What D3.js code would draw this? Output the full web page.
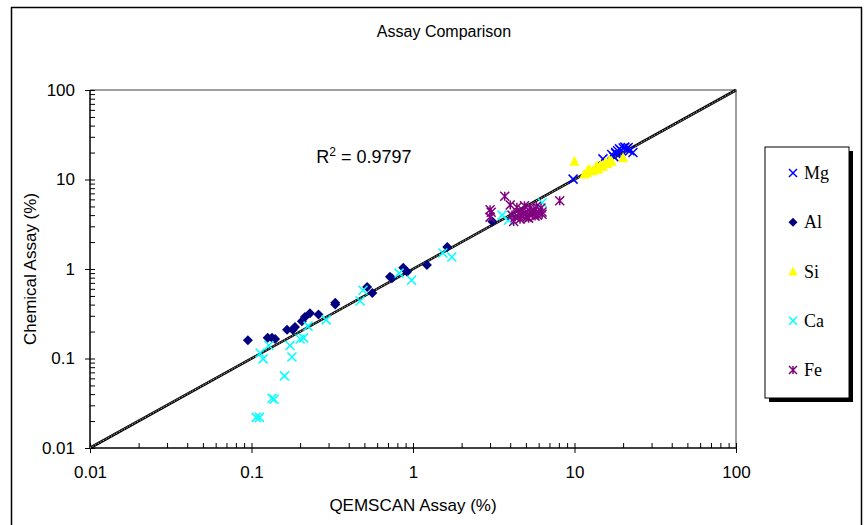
<!DOCTYPE html>
<html>
<head>
<meta charset="utf-8">
<script src="https://cdn.jsdelivr.net/npm/d3@7"></script>
<style>
  body { margin: 0; background: #fff; }
  text { font-family: Arial, "Liberation Sans", sans-serif; }
</style>
</head>
<body>
<div id="chart"></div>
<script>
// Assay data: [QEMSCAN, Chemical] in %
const mgData = [[9.8, 10.1], [15, 17], [17, 19], [17.5, 18], [18, 20], [18, 19.5], [18.5, 21], [19, 22],
  [19.5, 21], [20, 22.5], [20.5, 23], [21, 22], [21.5, 22.8], [22, 21], [23, 20]];
const alData = [[0.095, 0.16], [0.126, 0.17], [0.134, 0.17], [0.14, 0.165], [0.166, 0.21], [0.18, 0.21],
  [0.186, 0.225], [0.205, 0.26], [0.214, 0.29], [0.23, 0.32], [0.26, 0.31], [0.33, 0.4], [0.33, 0.42],
  [0.52, 0.63], [0.56, 0.54], [0.72, 0.82], [0.74, 0.79], [0.87, 1.03], [0.92, 0.93], [1.22, 1.11],
  [1.63, 1.76], [3.1, 3.4]];
const siData = [[10, 16], [11.5, 11.5], [12, 12], [12.5, 12.8], [13, 12.5], [13.5, 13.5], [14, 13],
  [14.5, 14.5], [15, 14], [15.5, 15.5], [16, 15], [16.5, 16.5], [17, 16], [12.2, 13], [13.8, 14.2], [20, 17.5]];
const caData = [[0.107, 0.022], [0.112, 0.022], [0.134, 0.036], [0.138, 0.035], [0.16, 0.064],
  [0.113, 0.115], [0.118, 0.099], [0.128, 0.14], [0.173, 0.14], [0.178, 0.104], [0.2, 0.165],
  [0.21, 0.17], [0.224, 0.23], [0.29, 0.27], [0.47, 0.44], [0.49, 0.58], [0.82, 0.9], [0.98, 0.75],
  [1.53, 1.51], [1.74, 1.36], [3.56, 4.0], [3.9, 3.5], [6.3, 5.5]];
const feData = [[3.7, 6.5], [3.0, 4.6], [3.0, 3.8], [3.05, 4.3], [8.1, 5.8], [4.0, 5.2], [4.2, 3.4],
  [4.1, 4.0], [4.3, 3.8], [4.5, 4.2], [4.7, 4.0], [4.8, 4.5], [5.0, 3.9], [5.1, 4.3], [5.3, 4.8],
  [5.5, 4.1], [5.6, 4.6], [5.8, 5.0], [6.0, 4.3], [6.2, 4.8], [4.6, 3.6], [5.2, 3.7], [5.7, 3.9],
  [4.4, 4.9], [4.9, 5.1], [5.9, 4.0], [6.3, 4.1], [5.08, 3.8], [5.46, 4.2], [6.29, 4.34]];

const seriesNames = ["Mg", "Al", "Si", "Ca", "Fe"];
const majorTicks = [0.01, 0.1, 1, 10, 100];
const rSquaredLabel = "0.9797";
// power trendline y = a * x^b
const trendA = 1.0;
const trendB = 0.995;

const series = [
  { name: "Mg", data: mgData, color: "#0000ff", shape: "x" },
  { name: "Al", data: alData, color: "#000080", shape: "diamond" },
  { name: "Si", data: siData, color: "#ffff00", shape: "triangle" },
  { name: "Ca", data: caData, color: "#00ffff", shape: "x" },
  { name: "Fe", data: feData, color: "#800080", shape: "star" }
];

const W = 864, H = 525;
const plot = { left: 90, right: 736, top: 90, bottom: 448 };

const svg = d3.select("#chart").append("svg")
  .attr("width", W).attr("height", H);

svg.append("rect").attr("x", 0).attr("y", 0).attr("width", W).attr("height", H).attr("fill", "#fff");
// outer chart frame
svg.append("rect").attr("x", 11.5).attr("y", 7.5).attr("width", 850).attr("height", 540)
  .attr("fill", "none").attr("stroke", "#000").attr("stroke-width", 1.5);

const x = d3.scaleLog().domain([0.01, 100]).range([plot.left, plot.right]);
const y = d3.scaleLog().domain([0.01, 100]).range([plot.bottom, plot.top]);

// plot area border (top/right grey)
svg.append("path")
  .attr("d", `M${plot.left},${plot.top}H${plot.right}V${plot.bottom}`)
  .attr("fill", "none").attr("stroke", "#808080").attr("stroke-width", 1.5);

// x axis: major ticks crossing, minor ticks inside
const xMajor = svg.append("g").attr("transform", `translate(0,${plot.bottom})`)
  .call(d3.axisBottom(x).tickValues(majorTicks).tickSize(5).tickFormat(d3.format("~g")).tickPadding(13));
svg.append("g").attr("transform", `translate(0,${plot.bottom})`)
  .call(d3.axisBottom(x).tickValues(x.ticks()).tickSizeInner(-5).tickSizeOuter(0).tickFormat(""))
  .select(".domain").remove();
xMajor.selectAll("text").attr("font-size", 17).attr("fill", "#000")
  .style("font-family", "Arial, 'Liberation Sans', sans-serif");
xMajor.select(".domain").attr("stroke-width", 1.5).attr("d", `M${plot.left},0H${plot.right}`);

// y axis
const yMajor = svg.append("g").attr("transform", `translate(${plot.left},0)`)
  .call(d3.axisLeft(y).tickValues(majorTicks).tickSize(5).tickFormat(d3.format("~g")).tickPadding(10));
svg.append("g").attr("transform", `translate(${plot.left},0)`)
  .call(d3.axisLeft(y).tickValues(y.ticks()).tickSizeInner(-5).tickSizeOuter(0).tickFormat(""))
  .select(".domain").remove();
yMajor.selectAll("text").attr("font-size", 17).attr("fill", "#000")
  .style("font-family", "Arial, 'Liberation Sans', sans-serif");
yMajor.select(".domain").attr("stroke-width", 1.5).attr("d", `M0,${plot.top}V${plot.bottom}`);

// 1:1 line and trendline
const lineGen = d3.line().x(d => x(d[0])).y(d => y(d[1]));
svg.append("path").datum([[0.01, 0.01], [100, 100]])
  .attr("d", lineGen).attr("stroke", "#000").attr("stroke-width", 2.6).attr("fill", "none");
const trendPts = [0.01, 0.1, 1, 10, 100].map(v => [v, trendA * Math.pow(v, trendB)]);
svg.append("path").datum(trendPts)
  .attr("d", lineGen).attr("stroke", "#222").attr("stroke-width", 1.4).attr("fill", "none");
svg.append("path").datum([[0.01, 0.01], [100, 100]])
  .attr("d", lineGen).attr("stroke", "#c8c8c8").attr("stroke-width", 1)
  .attr("stroke-dasharray", "1,2").attr("fill", "none");

// markers
function drawMarker(g, shape, color, s) {
  const h = s / 2;
  if (shape === "diamond") {
    g.append("path").attr("d", `M0,${-h - 0.5}L${h + 0.5},0L0,${h + 0.5}L${-h - 0.5},0Z`).attr("fill", color);
  } else if (shape === "triangle") {
    g.append("path").attr("d", `M0,${-h - 1}L${h + 0.5},${h}L${-h - 0.5},${h}Z`).attr("fill", color);
  } else {
    let d = `M${-h},${-h}L${h},${h}M${-h},${h}L${h},${-h}`;
    if (shape === "star") d += `M0,${-h}V${h}`;
    g.append("path").attr("d", d).attr("stroke", color).attr("stroke-width", 1.5).attr("fill", "none");
  }
}

series.forEach(sr => {
  const grp = svg.append("g").attr("class", "series-" + sr.name);
  grp.selectAll("g").data(sr.data).enter().append("g")
    .attr("transform", d => `translate(${x(d[0])},${y(d[1])})`)
    .each(function() { drawMarker(d3.select(this), sr.shape, sr.color, 9); });
});

// R squared
const rText = svg.append("text").attr("x", 364).attr("y", 163).attr("font-size", 18).attr("text-anchor", "middle");
rText.append("tspan").text("R");
rText.append("tspan").attr("dy", -7).attr("font-size", 12).text("2");
rText.append("tspan").attr("dy", 7).text(" = " + rSquaredLabel);

// titles
svg.append("text").attr("x", 444).attr("y", 37).attr("text-anchor", "middle").attr("font-size", 16)
  .text("Assay Comparison");
svg.append("text").attr("x", x(1)).attr("y", 511).attr("text-anchor", "middle").attr("font-size", 17)
  .text("QEMSCAN Assay (%)");
svg.append("text").attr("transform", `translate(36,${(plot.top + plot.bottom) / 2}) rotate(-90)`)
  .attr("text-anchor", "middle").attr("font-size", 17).text("Chemical Assay (%)");

// legend
const leg = { x: 765, y: 147, w: 84, h: 251 };
svg.append("rect").attr("x", leg.x + 4).attr("y", leg.y + 4).attr("width", leg.w).attr("height", leg.h).attr("fill", "#000");
svg.append("rect").attr("x", leg.x).attr("y", leg.y).attr("width", leg.w).attr("height", leg.h)
  .attr("fill", "#fff").attr("stroke", "#000").attr("stroke-width", 1);
const legY = d3.scalePoint().domain(seriesNames).range([leg.y + 26, leg.y + 223]);
series.forEach(sr => {
  const g = svg.append("g").attr("transform", `translate(${leg.x + 28},${legY(sr.name)})`);
  drawMarker(g, sr.shape, sr.color, 8);
  g.append("text").attr("x", 11).attr("y", 6).attr("font-size", 18)
    .style("font-family", "'Times New Roman', 'Liberation Serif', serif").text(sr.name);
});
</script>
</body>
</html>
